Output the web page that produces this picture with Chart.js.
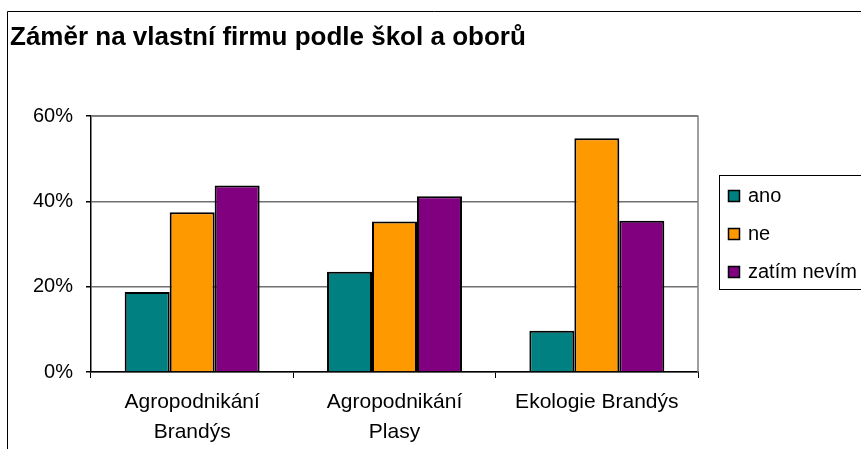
<!DOCTYPE html>
<html>
<head>
<meta charset="utf-8">
<script src="https://cdn.jsdelivr.net/npm/chart.js@4.4.0/dist/chart.umd.min.js"></script>
<style>
  html, body { margin: 0; padding: 0; background: #fff; }
  canvas { display: block; }
</style>
</head>
<body>
<canvas id="chart" width="861" height="449"></canvas>
<script>
const categories = [["Agropodnikání", "Brandýs"], ["Agropodnikání", "Plasy"], "Ekologie Brandýs"];
const ano = [0.1875, 0.235, 0.097];
const ne = [0.375, 0.353, 0.548];
const zatimNevim = [0.4375, 0.412, 0.355];
const yTicks = [0, 0.2, 0.4, 0.6];

const FONT = "Arial, 'Liberation Sans', sans-serif";

// frame around whole chart + grey border of plot area
const framePlugin = {
  id: "frame",
  beforeDraw(chart) {
    const ctx = chart.ctx;
    ctx.save();
    ctx.strokeStyle = "#000";
    ctx.lineWidth = 1;
    ctx.beginPath();
    ctx.moveTo(7.5, 460);
    ctx.lineTo(7.5, 11.5);
    ctx.lineTo(870, 11.5);
    ctx.stroke();
    ctx.restore();
  },
  beforeDatasetsDraw(chart) {
    const a = chart.chartArea;
    const ctx = chart.ctx;
    ctx.save();
    ctx.strokeStyle = "#808080";
    ctx.lineWidth = 1.5;
    ctx.beginPath();
    ctx.moveTo(a.left, a.top);
    ctx.lineTo(a.right, a.top);
    ctx.lineTo(a.right, a.bottom);
    ctx.stroke();
    ctx.restore();
  }
};

// legend in a box on the right, like the excel one
const boxLegend = {
  id: "boxLegend",
  afterDraw(chart) {
    const ctx = chart.ctx;
    ctx.save();
    ctx.strokeStyle = "#000";
    ctx.lineWidth = 1;
    ctx.strokeRect(719.5, 175.5, 160, 114);
    ctx.font = "20px " + FONT;
    ctx.textBaseline = "middle";
    chart.data.datasets.forEach((ds, i) => {
      const y = 196 + i * 38;
      ctx.fillStyle = ds.backgroundColor;
      ctx.fillRect(728, y - 6, 11, 11);
      ctx.strokeStyle = "#000";
      ctx.lineWidth = 1.5;
      ctx.strokeRect(728.5, y - 5.5, 11, 11);
      ctx.fillStyle = "#000";
      ctx.fillText(ds.label, 748, y);
    });
    ctx.restore();
  }
};

new Chart(document.getElementById("chart"), {
  type: "bar",
  data: {
    labels: categories,
    datasets: [
      { label: "ano", data: ano, backgroundColor: "#008080" },
      { label: "ne", data: ne, backgroundColor: "#FF9900" },
      { label: "zatím nevím", data: zatimNevim, backgroundColor: "#800080" }
    ]
  },
  options: {
    responsive: false,
    devicePixelRatio: 1,
    animation: false,
    layout: { padding: { left: 10, right: 163, top: 0, bottom: 0 } },
    datasets: {
      bar: {
        borderColor: "#000",
        borderWidth: 2,
        categoryPercentage: 0.667,
        barPercentage: 1.0
      }
    },
    plugins: {
      legend: { display: false },
      tooltip: { enabled: false },
      title: {
        display: true,
        text: "Záměr na vlastní firmu podle škol a oborů",
        align: "start",
        color: "#000",
        font: { family: FONT, size: 26, weight: "bold", lineHeight: 1.2 },
        padding: { top: 22, bottom: 63 }
      }
    },
    scales: {
      x: {
        grid: {
          display: true,
          offset: true,
          drawOnChartArea: false,
          drawTicks: true,
          tickLength: 6,
          tickColor: "#000"
        },
        border: { color: "#000", width: 1.5 },
        ticks: {
          color: "#000",
          font: { family: FONT, size: 21, lineHeight: 1.42 },
          padding: 9,
          maxRotation: 0
        },
        afterFit(scale) { scale.height = 77; }
      },
      y: {
        min: 0,
        max: 0.6,
        afterBuildTicks(scale) { scale.ticks = yTicks.map(v => ({ value: v })); },
        grid: {
          color: "#707070",
          lineWidth: 1.5,
          drawTicks: true,
          tickLength: 5,
          tickColor: "#000"
        },
        border: { color: "#000", width: 1.5 },
        ticks: {
          color: "#000",
          font: { family: FONT, size: 20 },
          padding: 13,
          callback: v => Math.round(v * 100) + "%"
        },
        afterFit(scale) { scale.width = 81; }
      }
    }
  },
  plugins: [framePlugin, boxLegend]
});
</script>
</body>
</html>
